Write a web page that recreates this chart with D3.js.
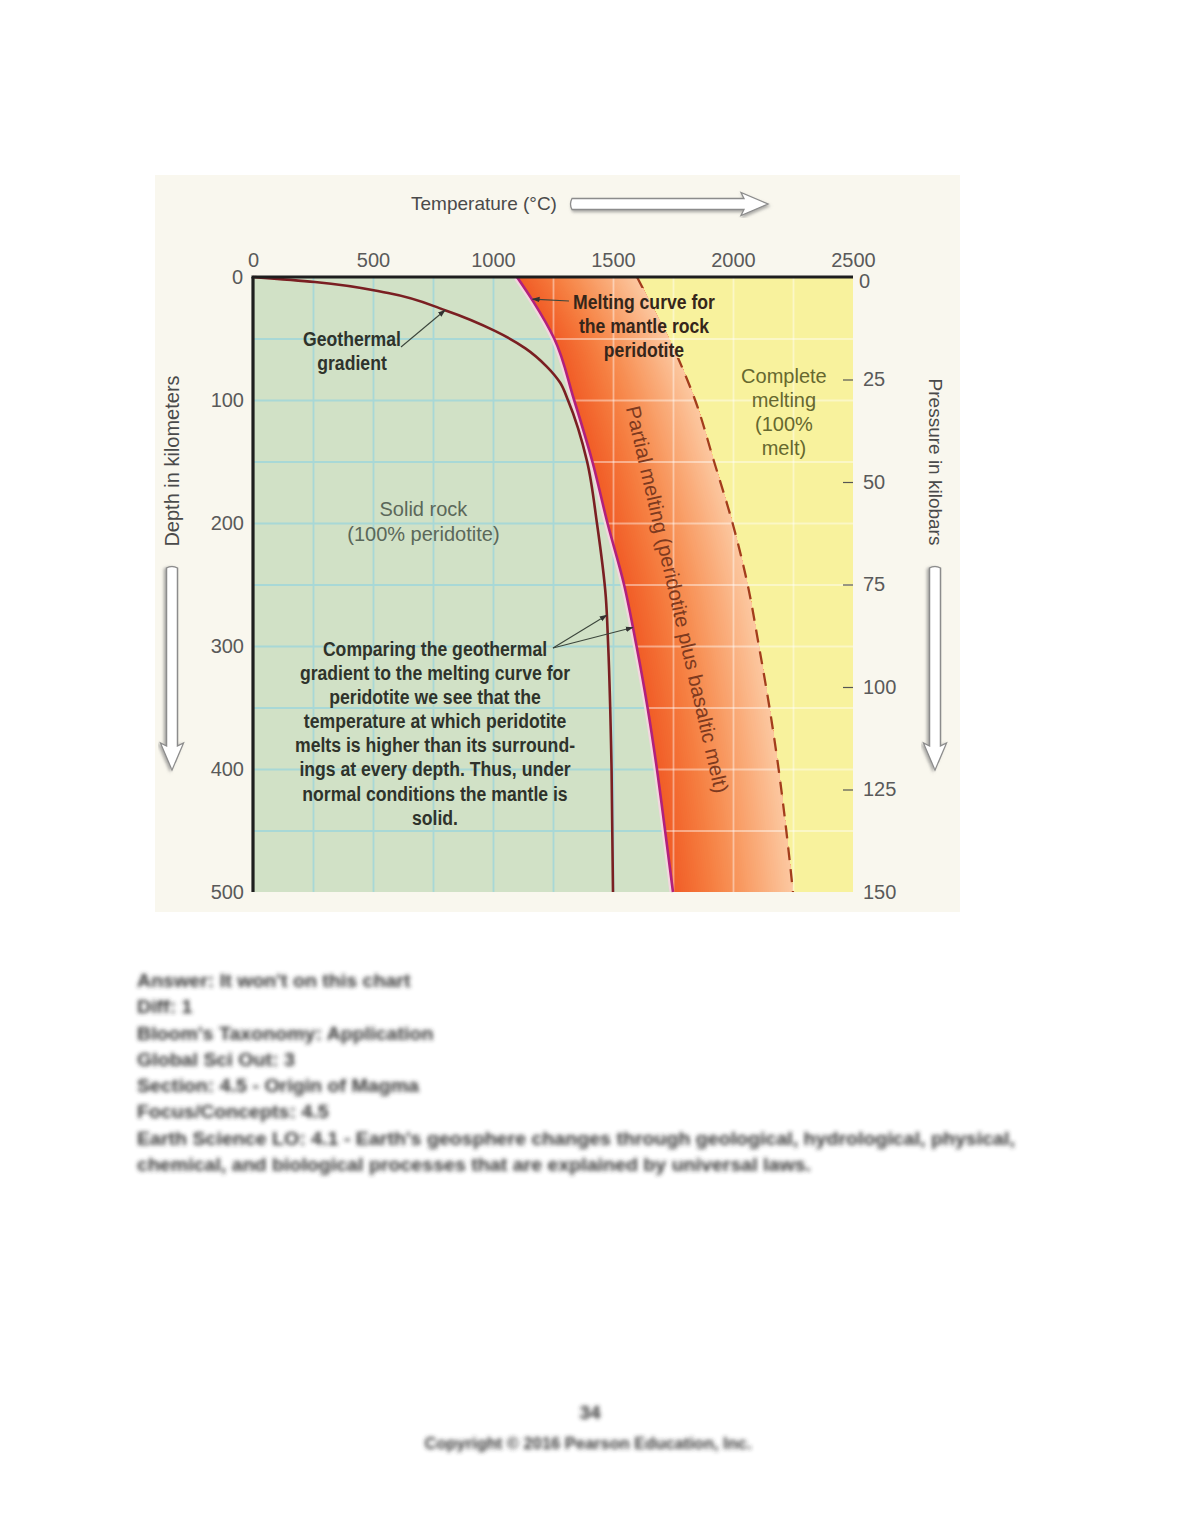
<!DOCTYPE html>
<html>
<head>
<meta charset="utf-8">
<title>Geothermal gradient and the melting curve of peridotite</title>
<script src="https://cdn.jsdelivr.net/npm/d3@7"></script>
<style>
  body { margin: 0; background: #fff; }
  .tick text { font-family: "Liberation Sans", Arial, sans-serif; font-size: 20px; fill: #5a5a5a; }
  .axisLabel { font-family: "Liberation Sans", Arial, sans-serif; font-size: 19px; fill: #4a4a4a; }
  .note { font-family: "Liberation Sans", Arial, sans-serif;
          font-weight: bold; font-size: 20.5px; fill: #2f332b; text-anchor: middle; }
  .region { font-family: "Liberation Sans", Arial, sans-serif; font-size: 20px; text-anchor: middle; }
  .grid path { display: none; }
</style>
</head>
<body>
<script>
// axis ticks
var tempTicks = [0, 500, 1000, 1500, 2000, 2500];
var depthTicks = [0, 100, 200, 300, 400, 500];
var pressureTicks = [0, 25, 50, 75, 100, 125, 150];
var gridTemps = [250, 500, 750, 1000, 1250, 1500, 1750, 2000, 2250];
var gridDepths = [50, 100, 150, 200, 250, 300, 350, 400, 450];

// melting curves (depth km -> temperature C)
var curveDepth = [0, 20, 50, 100, 150, 200, 250, 300, 350, 400, 450, 500];
var solidusTemp = [1100, 1168, 1255, 1338, 1414, 1477, 1546, 1598, 1644, 1683, 1717, 1750];
var liquidusTemp = [1600, 1653, 1733, 1842, 1921, 1998, 2061, 2108, 2152, 2190, 2222, 2250];

// geothermal gradient
var geoDepth = [0, 4, 13, 27, 44, 58, 73, 86, 100, 150, 200, 260, 300, 400, 500];
var geoTemp = [0, 258, 563, 800, 1010, 1135, 1225, 1280, 1312, 1392, 1433, 1470, 1480, 1494, 1500];

// text under the figure
var noteLines = ["Answer:  It won't on this chart",
  "Diff: 1",
  "Bloom's Taxonomy:  Application",
  "Global Sci Out:  3",
  "Section:  4.5 - Origin of Magma",
  "Focus/Concepts:  4.5",
  "Earth Science LO:  4.1 - Earth's geosphere changes through geological, hydrological, physical,",
  "chemical, and biological processes that are explained by universal laws."];

var width = 1180, height = 1527;
var svg = d3.select("body").append("svg")
    .attr("width", width)
    .attr("height", height);

var plot = {left: 253, right: 853, top: 277, bottom: 892};
var x = d3.scaleLinear().domain([0, 2500]).range([plot.left, plot.right]);
var y = d3.scaleLinear().domain([0, 500]).range([plot.top, plot.bottom]);
var p = d3.scaleLinear().domain([0, 150]).range([plot.top, plot.bottom]);

// curves as rows
var rows = curveDepth.map(function(d, i) {
  return {depth: d, sol: solidusTemp[i], liq: liquidusTemp[i]};
});
var geoRows = geoDepth.map(function(d, i) { return {depth: d, t: geoTemp[i]}; });
var solAt = d3.scaleLinear().domain(curveDepth).range(solidusTemp);
var geoAt = d3.scaleLinear().domain(geoDepth).range(geoTemp);

var defs = svg.append("defs");
defs.append("filter").attr("id", "shadow")
  .append("feDropShadow").attr("dx", 1).attr("dy", 2).attr("stdDeviation", 1.5)
  .attr("flood-color", "#777").attr("flood-opacity", 0.6);
defs.append("filter").attr("id", "blur")
  .append("feGaussianBlur").attr("stdDeviation", 2);
defs.append("marker").attr("id", "tip")
    .attr("viewBox", "0 0 10 10").attr("refX", 9).attr("refY", 5)
    .attr("markerWidth", 7).attr("markerHeight", 7).attr("orient", "auto")
  .append("path").attr("d", "M0,1.5 L10,5 L0,8.5 z").attr("fill", "#333");

// background panel
svg.append("rect").attr("x", 155).attr("y", 175).attr("width", 805).attr("height", 737)
  .attr("fill", "#f9f7ee");

// areas
var solidArea = d3.area().curve(d3.curveMonotoneY)
  .y(function(d) { return y(d.depth); })
  .x0(x(0))
  .x1(function(d) { return x(d.sol); });
var meltArea = d3.area().curve(d3.curveMonotoneY)
  .y(function(d) { return y(d.depth); })
  .x0(function(d) { return x(d.sol); })
  .x1(x(2500));
var fullArea = d3.area().curve(d3.curveMonotoneY)
  .y(function(d) { return y(d.depth); })
  .x0(function(d) { return x(d.liq); })
  .x1(x(2500));

defs.append("clipPath").attr("id", "clip-solid").append("path").attr("d", solidArea(rows));
defs.append("clipPath").attr("id", "clip-melt").append("path").attr("d", meltArea(rows));

svg.append("path").attr("d", solidArea(rows)).attr("fill", "#d1e1c6");
svg.append("path").attr("d", fullArea(rows)).attr("fill", "#f8f29d");

// partial melting band, shaded from the solidus to the liquidus
var bandColor = d3.interpolateRgbBasis(["#f15d28", "#f6803f", "#f9a46f", "#fcc9a2"]);
var N = 60;
d3.range(N).forEach(function(k) {
  var t = k / N;
  var slice = d3.area().curve(d3.curveMonotoneY)
    .y(function(d) { return y(d.depth); })
    .x0(function(d) { return x(d.sol + t * (d.liq - d.sol)); })
    .x1(function(d) { return x(d.liq); });
  svg.append("path").attr("d", slice(rows)).attr("fill", bandColor(t));
});

// grid
function grid(g, color, w) {
  g.append("g").attr("class", "grid")
    .attr("transform", "translate(0," + plot.top + ")")
    .call(d3.axisTop(x).tickValues(gridTemps).tickSize(-(plot.bottom - plot.top)).tickFormat(""))
    .selectAll("line").attr("stroke", color).attr("stroke-width", w);
  g.append("g").attr("class", "grid")
    .attr("transform", "translate(" + plot.left + ",0)")
    .call(d3.axisLeft(y).tickValues(gridDepths).tickSize(-(plot.right - plot.left)).tickFormat(""))
    .selectAll("line").attr("stroke", color).attr("stroke-width", w);
}
grid(svg.append("g").attr("clip-path", "url(#clip-solid)"), "#a8d8d6", 1.8);
grid(svg.append("g").attr("clip-path", "url(#clip-melt)"), "rgba(255,255,255,0.42)", 1.8);

// lines
var solLine = d3.line().curve(d3.curveMonotoneY)
  .x(function(d) { return x(d.sol); }).y(function(d) { return y(d.depth); });
var liqLine = d3.line().curve(d3.curveMonotoneY)
  .x(function(d) { return x(d.liq); }).y(function(d) { return y(d.depth); });
var geoLine = d3.line().curve(d3.curveMonotoneY)
  .x(function(d) { return x(d.t); }).y(function(d) { return y(d.depth); });

// hide the dashed curve behind the label
var mask = defs.append("mask").attr("id", "label-gap");
mask.append("rect").attr("x", 0).attr("y", 0).attr("width", width).attr("height", height).attr("fill", "#fff");
mask.append("rect").attr("x", 600).attr("y", 288).attr("width", 130).attr("height", 70).attr("fill", "#000");

svg.append("path").attr("d", liqLine(rows))
  .attr("fill", "none").attr("stroke", "#a33d1c").attr("stroke-width", 2.3)
  .attr("stroke-dasharray", "13,9").attr("mask", "url(#label-gap)");

svg.append("g").attr("clip-path", "url(#clip-solid)")
  .append("path").attr("d", solLine(rows))
  .attr("fill", "none").attr("stroke", "#f4d6df").attr("stroke-width", 7);
svg.append("path").attr("d", solLine(rows))
  .attr("fill", "none").attr("stroke", "#b2207c").attr("stroke-width", 2.6);

svg.append("path").attr("d", geoLine(geoRows))
  .attr("fill", "none").attr("stroke", "#7a1f22").attr("stroke-width", 2.6);

// frame
svg.append("line").attr("x1", plot.left - 1.5).attr("x2", plot.right).attr("y1", plot.top).attr("y2", plot.top)
  .attr("stroke", "#1e1e1e").attr("stroke-width", 3.2);
svg.append("line").attr("x1", plot.left).attr("x2", plot.left).attr("y1", plot.top).attr("y2", plot.bottom)
  .attr("stroke", "#1e1e1e").attr("stroke-width", 3.2);

// axes
var topAxis = svg.append("g")
  .attr("transform", "translate(0," + plot.top + ")")
  .call(d3.axisTop(x).tickValues(tempTicks).tickSize(0).tickPadding(10).tickFormat(d3.format("d")));
topAxis.select(".domain").remove();

var leftAxis = svg.append("g")
  .attr("transform", "translate(" + plot.left + ",0)")
  .call(d3.axisLeft(y).tickValues(depthTicks).tickSize(0).tickPadding(9));
leftAxis.select(".domain").remove();
leftAxis.selectAll(".tick").filter(function(d) { return d === 0; }).select("text").attr("x", -10);

var rightAxis = svg.append("g")
  .attr("transform", "translate(" + plot.right + ",0)")
  .call(d3.axisRight(p).tickValues(pressureTicks).tickSize(-10).tickPadding(10));
rightAxis.select(".domain").remove();
rightAxis.selectAll(".tick line").attr("stroke", "#555").attr("stroke-width", 1.2)
  .filter(function(d) { return d === 0 || d === 150; }).remove();
rightAxis.selectAll(".tick text").attr("x", 10);
rightAxis.selectAll(".tick").filter(function(d) { return d === 0; }).select("text")
  .attr("x", 6).attr("dy", "0.5em");

// axis titles with hollow arrows
function hollowArrow(x0, y0, len, angle) {
  var g = svg.append("g").attr("transform", "translate(" + x0 + "," + y0 + ") rotate(" + angle + ")");
  g.append("path")
    .attr("d", "M0,-5.5 L" + (len - 24) + ",-5.5 L" + (len - 27) + ",-11.5 L" + len + ",0 L" + (len - 27) + ",11.5 L" + (len - 24) + ",5.5 L0,5.5 Q-3,0 0,-5.5 z")
    .attr("fill", "#fff").attr("stroke", "#8c8c8c").attr("stroke-width", 1.3)
    .attr("filter", "url(#shadow)");
}
svg.append("text").attr("class", "axisLabel").attr("x", 484).attr("y", 210)
  .attr("text-anchor", "middle").text("Temperature (°C)");
hollowArrow(572, 204, 196, 0);

svg.append("text").attr("class", "axisLabel")
  .attr("transform", "translate(179,461) rotate(-90)")
  .attr("text-anchor", "middle").style("font-size", "20px").text("Depth in kilometers");
hollowArrow(172, 568, 202, 90);

svg.append("text").attr("class", "axisLabel")
  .attr("transform", "translate(929,462) rotate(90)")
  .attr("text-anchor", "middle").text("Pressure in kilobars");
hollowArrow(935, 568, 202, 90);

// multi-line labels; sx squeezes the bold type to a condensed width
function lines(cls, cx, y0, step, arr, color, sx) {
  var g = svg.append("g").attr("transform", "translate(" + cx + ",0) scale(" + (sx || 1) + ",1)");
  var t = g.append("text").attr("class", cls).attr("x", 0).attr("y", y0);
  if (color) t.style("fill", color);
  arr.forEach(function(s, i) {
    t.append("tspan").attr("x", 0).attr("y", y0 + i * step).text(s);
  });
  return t;
}
lines("region", x(710), 516, 25, ["Solid rock", "(100% peridotite)"], "#5b685a");
lines("region", x(2212), 383, 24, ["Complete", "melting", "(100%", "melt)"], "#66682f");

svg.append("text").attr("class", "region")
  .attr("transform", "translate(" + x(1768) + "," + y(262) + ") rotate(77)")
  .style("fill", "#7d3a1f").style("font-size", "20.5px")
  .attr("dy", "0.35em")
  .text("Partial melting (peridotite plus basaltic melt)");

var squeeze = 0.86;
lines("note", 352, 346, 24, ["Geothermal", "gradient"], null, squeeze);
lines("note", 644, 309, 24, ["Melting curve for", "the mantle rock", "peridotite"], "#35261a", squeeze);
lines("note", 435, 656, 24.1, ["Comparing the geothermal",
  "gradient to the melting curve for",
  "peridotite we see that the",
  "temperature at which peridotite",
  "melts is higher than its surround-",
  "ings at every depth. Thus, under",
  "normal conditions the mantle is",
  "solid."], null, squeeze);

// leaders
function leader(x1, y1, x2, y2) {
  svg.append("line").attr("x1", x1).attr("y1", y1).attr("x2", x2).attr("y2", y2)
    .attr("stroke", "#3c463c").attr("stroke-width", 1.1).attr("marker-end", "url(#tip)");
}
leader(401, 347, x(geoAt(27)), y(27));
leader(569, 301, x(solAt(18)) + 1, y(18));
leader(553, 648, x(geoAt(275)), y(275));
leader(553, 648, x(solAt(285)), y(285));

// text below the figure (blurred in the source)
var notes = svg.append("g").attr("filter", "url(#blur)")
  .style("font-family", "\"Liberation Sans\", Arial, sans-serif")
  .style("font-weight", "bold")
  .style("font-size", "19px").style("fill", "#363636");
var body = notes.append("g");
noteLines.forEach(function(s, i) {
  body.append("text").attr("x", 0).attr("y", 987 + i * 26.3).text(s);
});
// fit the long line to the page measure of the source
var longest = body.selectAll("text").nodes()[6].getComputedTextLength();
body.attr("transform", "translate(137,0) scale(" + (878 / longest) + ",1)");
notes.append("text").attr("x", 590).attr("y", 1419).attr("text-anchor", "middle").text("34");
notes.append("text").attr("x", 588).attr("y", 1449).attr("text-anchor", "middle")
  .attr("textLength", 327).attr("lengthAdjust", "spacingAndGlyphs")
  .style("font-size", "17px").text("Copyright © 2016 Pearson Education, Inc.");
</script>
</body>
</html>
